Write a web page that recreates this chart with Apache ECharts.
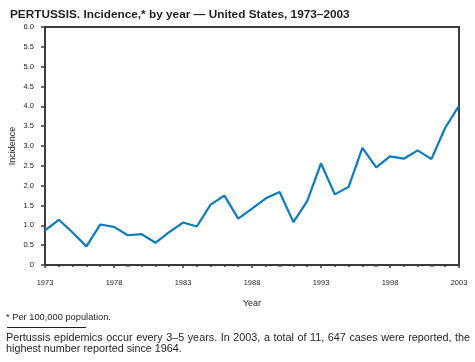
<!DOCTYPE html>
<html><head><meta charset="utf-8">
<script src="https://cdn.jsdelivr.net/npm/echarts@6/dist/echarts.min.js"></script>
<style>html,body{margin:0;padding:0;background:#fff}#c{width:475px;height:362px}</style>
</head><body><div id="c"></div>
<script>
var years = [1973,1974,1975,1976,1977,1978,1979,1980,1981,1982,1983,1984,1985,1986,1987,1988,1989,1990,1991,1992,1993,1994,1995,1996,1997,1998,1999,2000,2001,2002,2003];
var incidence = [0.87,1.14,0.82,0.47,1.02,0.96,0.75,0.78,0.56,0.83,1.07,0.97,1.52,1.75,1.17,1.42,1.68,1.84,1.08,1.61,2.56,1.78,1.97,2.95,2.46,2.74,2.68,2.89,2.67,3.46,4.01];
var xTicks = [1973,1978,1983,1988,1993,1998,2003];
var yTicks = ['0','0.5','1.0','1.5','2.0','2.5','3.0','3.5','4.0','4.5','5.0','5.5','6.0'];
var noteLine1 = 'Pertussis epidemics occur every 3\u20135 years. In 2003, a total of 11, 647 cases were reported, the';
var noteLine2 = 'highest number reported since 1964.';

var FF = '"Liberation Sans", Arial, sans-serif';
var AX = '#3e3b3c';
var TXT = '#231f20';
var NOTE_FS = 10.8;

// justify first paragraph line across the page width
var ctx = document.createElement('canvas').getContext('2d');
ctx.font = NOTE_FS + 'px ' + FF;
var words = noteLine1.split(' ');
var widths = words.map(function(w){return ctx.measureText(w).width;});
var total = widths.reduce(function(a,b){return a+b;},0);
var x0 = 6, x1 = 470;
var gap = (x1 - x0 - total) / (words.length - 1);
var justified = [];
var cx = x0;
words.forEach(function(w,i){
  justified.push({type:'text', x:cx, y:332.5, style:{text:w, fontSize:NOTE_FS, fill:TXT, fontFamily:FF}});
  cx += widths[i] + gap;
});

var chart = echarts.init(document.getElementById('c'), null, {renderer:'canvas'});
chart.setOption({
  animation:false,
  textStyle:{fontFamily:FF},
  title:{text:'PERTUSSIS. Incidence,* by year \u2014 United States, 1973\u20132003', left:5, top:4,
    textStyle:{fontSize:11.8, fontWeight:'bold', color:TXT, fontFamily:FF}},
  grid:{left:45, right:16, top:27, bottom:97, show:true, borderColor:AX, borderWidth:2, backgroundColor:'transparent',
    containLabel:false, outerBoundsMode:'none'},
  xAxis:{type:'value', min:years[0], max:years[years.length-1], interval:5,
    name:'Year', nameLocation:'middle', nameGap:34, nameMoveOverlap:false, nameTextStyle:{fontSize:9, color:TXT},
    axisLine:{show:true, lineStyle:{color:AX, width:2}},
    axisTick:{show:true, length:3, lineStyle:{color:AX, width:1.5}},
    minorTick:{show:true, splitNumber:5, length:2, lineStyle:{color:AX, width:1.5}},
    splitLine:{show:false},
    axisLabel:{fontSize:7.5, color:TXT, margin:14, formatter:function(v){return xTicks.indexOf(v)>=0?String(v):'';}}
  },
  yAxis:{type:'value', min:0, max:6, interval:0.5,
    name:'Incidence', nameLocation:'middle', nameGap:28, nameMoveOverlap:false, nameRotate:90, nameTextStyle:{fontSize:9, color:TXT},
    axisLine:{show:true, lineStyle:{color:AX, width:2}},
    axisTick:{show:true, length:4, lineStyle:{color:AX, width:1.5}},
    splitLine:{show:false},
    axisLabel:{fontSize:7.5, color:TXT, margin:11, formatter:function(v){return yTicks[Math.round(v*2)];}}
  },
  series:[{type:'line', data:years.map(function(y,i){return [y,incidence[i]];}), showSymbol:false,
    lineStyle:{color:'#0b7cbf', width:2.2}, itemStyle:{color:'#0b7cbf'}}],
  graphic:[
    {type:'text', left:6, top:313, style:{text:'* Per 100,000 population.', fontSize:9.3, fill:TXT, fontFamily:FF}},
    {type:'line', shape:{x1:7, y1:327.5, x2:86, y2:327.5}, style:{stroke:TXT, lineWidth:1}},
    {type:'text', x:6, y:344, style:{text:noteLine2, fontSize:NOTE_FS, fill:TXT, fontFamily:FF}}
  ].concat(justified)
});
</script></body></html>
